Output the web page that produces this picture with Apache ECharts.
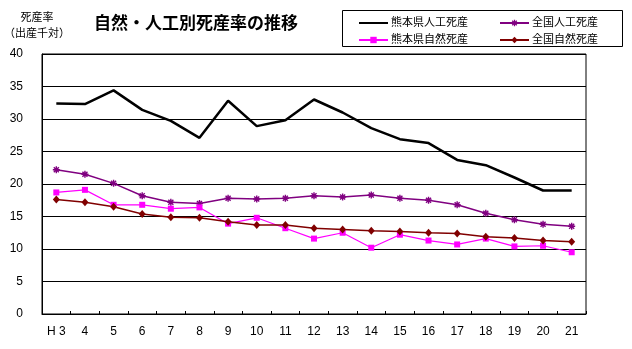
<!DOCTYPE html>
<html><head><meta charset="utf-8">
<script src="https://cdn.jsdelivr.net/npm/echarts@6/dist/echarts.min.js"></script>
<style>html,body{margin:0;padding:0;background:#fff}#c{width:632px;height:349px}</style>
</head><body><div id="c"></div>
<script>
const categories = ['H3','4','5','6','7','8','9','10','11','12','13','14','15','16','17','18','19','20','21'];
const kumamotoArtificial = [32.4,32.3,34.4,31.4,29.7,27.1,32.8,28.9,29.8,33.0,31.0,28.6,26.9,26.3,23.7,22.9,21.0,19.0,19.0];
const nationalArtificial = [22.2,21.5,20.1,18.2,17.2,17.0,17.8,17.7,17.8,18.2,18.0,18.3,17.8,17.5,16.8,15.5,14.5,13.8,13.5];
const kumamotoNatural = [18.7,19.1,16.8,16.8,16.2,16.4,13.9,14.8,13.2,11.6,12.5,10.2,12.2,11.3,10.7,11.6,10.4,10.5,9.5];
const nationalNatural = [17.6,17.2,16.5,15.4,14.9,14.8,14.2,13.7,13.7,13.2,13.0,12.8,12.7,12.5,12.4,11.9,11.7,11.3,11.1];
const yTicks = [0,5,10,15,20,25,30,35,40];

const star = 'path://M0 4L10 4L10 6L0 6Z M4 0L6 0L6 10L4 10Z M0.7 2.1L2.1 0.7L9.3 7.9L7.9 9.3Z M7.9 0.7L9.3 2.1L2.1 9.3L0.7 7.9Z';
const cjk = '"Liberation Sans","Noto Sans CJK JP",sans-serif';
const chart = echarts.init(document.getElementById('c'), null, {renderer:'canvas'});
chart.setOption({
  animation:false,
  backgroundColor:'#fff',
  textStyle:{fontFamily:cjk},
  title:{text:'自然・人工別死産率の推移', left:89, top:11,
    textStyle:{fontSize:17, fontWeight:'bold', color:'#000', fontFamily:cjk}},
  graphic:[{type:'rect', left:342, top:10, shape:{width:280, height:36},
    style:{fill:'#fff', stroke:'#000', lineWidth:1}, z:-1}],
  legend:[
    {orient:'vertical', left:353, top:11, itemWidth:29, itemHeight:8, itemGap:3,
     data:[{name:'熊本県人工死産', itemStyle:{opacity:0}},'熊本県自然死産'],
     textStyle:{fontSize:11, color:'#000', lineHeight:14, padding:[0,0,0,-2]}},
    {orient:'vertical', left:494, top:11, itemWidth:29, itemHeight:8, itemGap:3,
     data:['全国人工死産','全国自然死産'],
     textStyle:{fontSize:11, color:'#000', lineHeight:14, padding:[0,0,0,-2]}}
  ],
  grid:{left:42, right:46, top:54, bottom:35, show:true, borderColor:'#000', borderWidth:1},
  xAxis:{type:'category', data:categories, boundaryGap:true,
    axisLine:{lineStyle:{color:'#000', width:1}},
    axisTick:{show:true, inside:true, length:3, lineStyle:{color:'#000'}},
    axisLabel:{color:'#000', fontSize:12, margin:12,
      formatter:v => v === 'H3' ? 'H 3' : v}},
  yAxis:{type:'value', min:0, max:40, interval:5,
    name:'死産率\n（出産千対）', nameLocation:'end', nameGap:12,
    nameTextStyle:{fontSize:11, color:'#000', align:'center', lineHeight:16, padding:[0,10,0,0]},
    axisLine:{show:true, lineStyle:{color:'#000'}},
    axisTick:{show:false},
    splitLine:{show:true, lineStyle:{color:'#000', width:1}},
    axisLabel:{color:'#000', fontSize:12, margin:19,
      formatter:v => yTicks.includes(v) ? String(v) : ''}},
  series:[
    {name:'熊本県人工死産', type:'line', data:kumamotoArtificial, symbol:'none',
     lineStyle:{color:'#000', width:2.5}, itemStyle:{color:'#000'}},
    {name:'全国人工死産', type:'line', data:nationalArtificial, symbol:star, symbolSize:7,
     lineStyle:{color:'#800080', width:1.5}, itemStyle:{color:'#800080'}},
    {name:'熊本県自然死産', type:'line', data:kumamotoNatural, symbol:'rect', symbolSize:6,
     lineStyle:{color:'#FF00FF', width:1.2}, itemStyle:{color:'#FF00FF'}},
    {name:'全国自然死産', type:'line', data:nationalNatural, symbol:'diamond', symbolSize:[7,8],
     lineStyle:{color:'#800000', width:1.5}, itemStyle:{color:'#800000'}}
  ]
});
</script></body></html>
